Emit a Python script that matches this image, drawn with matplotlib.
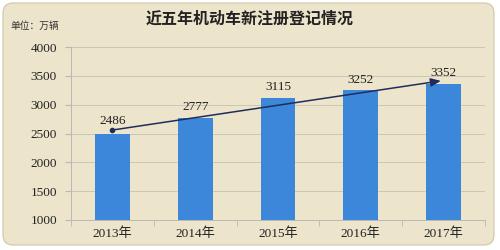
import matplotlib
matplotlib.use("Agg")
import matplotlib.pyplot as plt
from matplotlib.patches import FancyBboxPatch

years = ["2013年", "2014年", "2015年", "2016年", "2017年"]
values = [2486, 2777, 3115, 3252, 3352]
title = "近五年机动车新注册登记情况"
unit = "单位：万辆"
yticks = [1000, 1500, 2000, 2500, 3000, 3500, 4000]
trend_start = 2560
trend_end = 3420

FAM = ["Liberation Serif", "Noto Sans CJK SC", "DejaVu Sans"]
plt.rcParams["font.family"] = FAM

fig = plt.figure(figsize=(5, 2.5), dpi=100)
fig.patch.set_facecolor("white")
bg = "#ece5cb"
box = FancyBboxPatch((0.006, 0.02), 0.982, 0.968, boxstyle="round,pad=0,rounding_size=0.02",
                     transform=fig.transFigure, facecolor=bg, edgecolor="#cfc6a8", lw=0.8,
                     mutation_aspect=2, zorder=-5)
fig.patches.append(box)

ax = fig.add_axes([0.142, 0.12, 0.828, 0.692])
ax.set_facecolor("none")
x = list(range(len(years)))
ax.bar(x, values, width=0.42, color="#3d87da", zorder=2)
ax.set_xlim(-0.5, len(years) - 0.5)
ax.set_ylim(1000, 4000)
ax.set_yticks(yticks)
ax.set_yticklabels([str(v) for v in yticks], fontsize=9.5, color="#222222")
ax.set_xticks(x)
ax.set_xticklabels(years, fontsize=9.5, color="#222222")
ax.tick_params(axis="y", length=4, color="#b8b8b8", pad=6)
ax.tick_params(axis="x", length=0, pad=5)
ax.set_xticks([i + 0.5 for i in range(-1, len(years))], minor=True)
ax.tick_params(axis="x", which="minor", length=4, color="#b8b8b8")
ax.grid(axis="y", color="#c9c6b8", lw=0.7, zorder=0)
for s in ["top", "right"]:
    ax.spines[s].set_visible(False)
ax.spines["left"].set_color("#b8b8b8")
ax.spines["bottom"].set_color("#b8b8b8")
ax.spines["left"].set_linewidth(0.7)
ax.spines["bottom"].set_linewidth(0.7)

for i, v in enumerate(values):
    yoff = v + 80
    if i == 0:
        yoff = trend_start + 50
    if i == len(values) - 1:
        yoff = trend_end + 20
    ax.text(i, yoff, str(v), ha="center", va="bottom", fontsize=9.5, color="#222222", zorder=4)

ax.plot([0], [trend_start], "o", color="#1f2d5c", ms=3, zorder=3)
ax.annotate("", xy=(len(values) - 1, trend_end), xytext=(0, trend_start),
            arrowprops=dict(arrowstyle="-|>,head_length=0.6,head_width=0.25", color="#1f2d5c", lw=1.1),
            zorder=3)

fig.text(0.5, 0.925, title, ha="center", va="center", fontsize=11.5, color="#222222",
         fontweight="bold", family=["Noto Sans CJK SC", "DejaVu Sans"])
fig.text(0.02, 0.895, unit, ha="left", va="center", fontsize=7, color="#333333",
         family=["Noto Sans CJK SC", "DejaVu Sans"])

fig.savefig("out.png", dpi=100, facecolor="white")
